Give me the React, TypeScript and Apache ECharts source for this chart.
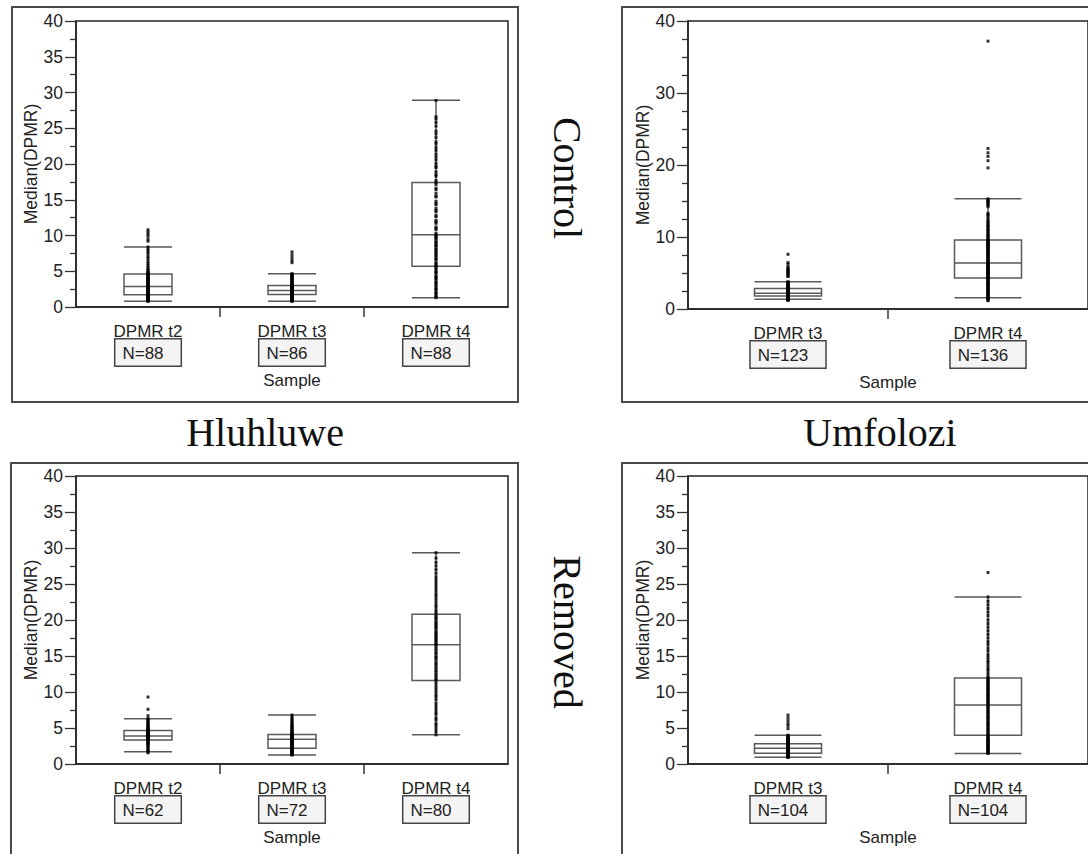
import React, { useEffect, useRef } from "react";
import * as echarts from "echarts";

// Sample columns per reserve
const hluhluweSamples = ["DPMR t2", "DPMR t3", "DPMR t4"];
const umfoloziSamples = ["DPMR t3", "DPMR t4"];

// Sample sizes shown under each column
const hluhluweControlN = [88, 86, 88];
const umfoloziControlN = [123, 136];
const hluhluweRemovedN = [62, 72, 80];
const umfoloziRemovedN = [104, 104];

// Box statistics: [lower whisker, Q1, median, Q3, upper whisker]
const hluhluweControlBoxes = [
  [0.8, 1.7, 2.85, 4.6, 8.4],
  [0.8, 1.75, 2.3, 3.0, 4.65],
  [1.3, 5.7, 10.1, 17.4, 28.9],
];
const umfoloziControlBoxes = [
  [1.35, 1.8, 2.2, 2.85, 3.8],
  [1.55, 4.3, 6.4, 9.6, 15.3],
];
const hluhluweRemovedBoxes = [
  [1.7, 3.35, 3.9, 4.65, 6.3],
  [1.25, 2.2, 3.45, 4.1, 6.8],
  [4.05, 11.6, 16.55, 20.8, 29.35],
];
const umfoloziRemovedBoxes = [
  [0.95, 1.5, 2.2, 2.8, 4.0],
  [1.45, 4.0, 8.2, 11.95, 23.2],
];

// Individual median DPMR values
const hcT2 = [
  0.8, 0.85, 0.9, 0.95, 1.0, 1.0, 1.1, 1.15, 1.2, 1.25, 1.3, 1.3, 1.4, 1.45, 1.5, 1.5, 1.55, 1.6, 1.6, 1.65, 1.7, 1.7,
  1.75, 1.8, 1.85, 1.9, 1.95, 2.0, 2.05, 2.1, 2.2, 2.2, 2.25, 2.3, 2.4, 2.4, 2.45, 2.5, 2.6, 2.6, 2.65, 2.7, 2.8, 2.85,
  2.9, 3.0, 3.1, 3.2, 3.3, 3.35, 3.5, 3.55, 3.6, 3.7, 3.8, 3.85, 3.9, 4.0, 4.1, 4.15, 4.2, 4.3, 4.4, 4.45, 4.5, 4.6,
  4.7, 4.75, 4.8, 4.95, 5.1, 5.3, 5.5, 5.8, 6.1, 6.4, 6.8, 7.1, 7.5, 7.8, 8.1, 8.4, 9.2, 9.5, 9.9, 10.2, 10.5, 10.8,
];
const hcT3 = [
  0.8, 0.85, 0.9, 0.95, 1.0, 1.05, 1.1, 1.15, 1.2, 1.25, 1.3, 1.35, 1.4, 1.45, 1.5, 1.5, 1.55, 1.6, 1.65, 1.7, 1.7, 1.75,
  1.8, 1.8, 1.85, 1.85, 1.9, 1.9, 1.95, 2.0, 2.0, 2.05, 2.05, 2.1, 2.1, 2.15, 2.15, 2.2, 2.2, 2.25, 2.25, 2.3, 2.3,
  2.35, 2.35, 2.4, 2.4, 2.45, 2.5, 2.5, 2.55, 2.6, 2.6, 2.65, 2.7, 2.7, 2.75, 2.8, 2.8, 2.85, 2.9, 2.9, 2.95, 3.0,
  3.1, 3.2, 3.3, 3.4, 3.5, 3.6, 3.7, 3.8, 3.9, 4.0, 4.1, 4.2, 4.3, 4.4, 4.5, 4.6, 4.65,
  6.2, 6.5, 6.9, 7.3, 7.7,
];
const hcT4 = [
  1.3, 1.45, 1.6, 1.9, 2.0, 2.35, 2.5, 2.6, 2.95, 3.1, 3.4, 3.45, 3.8, 4.0, 4.2, 4.3, 4.7, 4.85, 5.0, 5.3, 5.5, 5.7,
  5.8, 6.1, 6.2, 6.6, 6.7, 6.9, 7.2, 7.3, 7.6, 7.7, 8.0, 8.1, 8.4, 8.6, 8.7, 9.0, 9.1, 9.4, 9.6, 9.8, 9.9, 10.1,
  10.3, 10.8, 11.0, 11.2, 11.7, 11.9, 12.1, 12.6, 12.8, 13.3, 13.5, 13.8, 14.3, 14.5, 14.8, 15.4, 15.5, 15.9, 16.4, 16.6, 17.1, 17.4,
  17.7, 18.3, 18.5, 18.9, 19.5, 19.7, 20.1, 20.6, 21.0, 21.4, 21.9, 22.3, 22.8, 23.1, 23.7, 24.2, 24.6, 25.3, 25.8, 26.3, 26.6, 28.9,
];
const ucT3 = [
  1.2, 1.25, 1.3, 1.35, 1.35, 1.4, 1.4, 1.45, 1.45, 1.5, 1.5, 1.5, 1.55, 1.55, 1.55, 1.6, 1.6, 1.6, 1.6, 1.65, 1.65,
  1.65, 1.7, 1.7, 1.7, 1.7, 1.75, 1.75, 1.75, 1.8, 1.8,
  1.85, 1.85, 1.85, 1.9, 1.9, 1.9, 1.9, 1.95, 1.95, 1.95, 1.95, 2.0, 2.0, 2.0, 2.0, 2.0, 2.05, 2.05, 2.05, 2.05, 2.05,
  2.1, 2.1, 2.1, 2.1, 2.15, 2.15, 2.15, 2.15, 2.2, 2.2,
  2.25, 2.25, 2.25, 2.25, 2.3, 2.3, 2.3, 2.35, 2.35, 2.35, 2.4, 2.4, 2.4, 2.45, 2.45, 2.45, 2.5, 2.5, 2.5, 2.55, 2.55,
  2.6, 2.6, 2.6, 2.7, 2.7, 2.7, 2.8, 2.8, 2.85, 2.85,
  2.9, 2.95, 3.0, 3.05, 3.1, 3.15, 3.2, 3.25, 3.3, 3.4, 3.45, 3.5, 3.55, 3.65, 3.7, 3.8,
  4.5, 4.6, 4.75, 4.9, 5.0, 5.15, 5.3, 5.4, 5.55, 5.7, 5.85, 6.2, 6.45, 7.6,
];
const ucT4 = [
  1.15, 1.25, 1.35, 1.45, 1.55, 1.6, 1.7, 1.8, 1.9, 2.0, 2.1, 2.2, 2.3, 2.4, 2.5, 2.6, 2.7, 2.8, 2.9, 3.0, 3.1, 3.2,
  3.3, 3.35, 3.45, 3.55, 3.65, 3.7, 3.8, 3.9, 4.0, 4.1, 4.2, 4.3,
  4.35, 4.4, 4.45, 4.5, 4.6, 4.65, 4.7, 4.8, 4.85, 4.9, 5.0, 5.05, 5.1, 5.2, 5.25, 5.3, 5.4, 5.45, 5.5, 5.6, 5.65, 5.7,
  5.8, 5.85, 5.9, 6.0, 6.05, 6.1, 6.15, 6.2, 6.25, 6.3, 6.35, 6.4,
  6.5, 6.6, 6.7, 6.8, 6.9, 7.0, 7.1, 7.2, 7.3, 7.4, 7.5, 7.6, 7.7, 7.85, 7.95, 8.0, 8.1, 8.2, 8.3, 8.4, 8.5, 8.6, 8.7,
  8.8, 8.85, 8.9, 9.0, 9.1, 9.2, 9.3, 9.4, 9.45, 9.5, 9.6,
  9.7, 9.9, 10.1, 10.2, 10.4, 10.5, 10.7, 10.9, 11.0, 11.2, 11.4, 11.5, 11.7, 11.9, 12.1, 12.3, 12.6, 12.9, 13.1,
  13.3, 14.2, 14.4, 14.6, 14.7, 14.9, 15.0, 15.1, 15.3,
  19.6, 20.6, 21.2, 21.7, 22.3, 37.2,
];
const hrT2 = [
  1.55, 1.7, 1.85, 2.0, 2.2, 2.35, 2.5, 2.65, 2.8, 2.9, 3.0, 3.1, 3.2, 3.3, 3.35,
  3.4, 3.45, 3.5, 3.5, 3.55, 3.6, 3.6, 3.65, 3.7, 3.7, 3.75, 3.8, 3.8, 3.85, 3.9, 3.9,
  3.95, 4.0, 4.05, 4.1, 4.15, 4.2, 4.25, 4.3, 4.35, 4.4, 4.45, 4.5, 4.55, 4.6, 4.65,
  4.75, 4.85, 4.95, 5.05, 5.15, 5.3, 5.4, 5.55, 5.7, 5.85, 6.0, 6.15, 6.3,
  6.7, 7.6, 9.3,
];
const hrT3 = [
  1.25, 1.3, 1.35, 1.4, 1.45, 1.5, 1.6, 1.65, 1.7, 1.8, 1.85, 1.9, 1.95, 2.0, 2.05, 2.1, 2.15, 2.2,
  2.25, 2.3, 2.4, 2.45, 2.5, 2.6, 2.65, 2.75, 2.8, 2.9, 2.95, 3.0, 3.1, 3.15, 3.25, 3.3, 3.4, 3.45,
  3.5, 3.5, 3.55, 3.6, 3.6, 3.65, 3.7, 3.75, 3.75, 3.8, 3.85, 3.9, 3.9, 3.95, 4.0, 4.0, 4.05, 4.1,
  4.2, 4.3, 4.4, 4.5, 4.6, 4.7, 4.85, 5.0, 5.1, 5.25, 5.4, 5.55, 5.7, 5.9, 6.1, 6.3, 6.55, 6.8,
];
const hrT4 = [
  4.05, 4.5, 4.9, 5.3, 5.6, 6.1, 6.4, 6.9, 7.2, 7.6, 8.0, 8.4, 8.9, 9.3, 9.6, 10.0, 10.4, 10.8, 11.2, 11.6,
  11.8, 12.0, 12.3, 12.5, 12.8, 13.0, 13.3, 13.5, 13.8, 14.0, 14.3, 14.6, 14.8, 15.0, 15.3, 15.5, 15.8, 16.0, 16.3, 16.55,
  16.7, 16.9, 17.1, 17.3, 17.5, 17.7, 17.9, 18.1, 18.3, 18.5, 18.8, 19.0, 19.2, 19.4, 19.6, 19.8, 20.1, 20.3, 20.5, 20.8,
  21.1, 21.4, 21.8, 22.1, 22.5, 22.9, 23.3, 23.6, 24.0, 24.4, 24.8, 25.2, 25.6, 26.0, 26.5, 27.0, 27.5, 28.0, 28.6, 29.35,
];
const urT3 = [
  0.95, 0.95, 1.0, 1.0, 1.05, 1.05, 1.1, 1.1, 1.15, 1.15, 1.2, 1.2, 1.25, 1.25, 1.3, 1.3, 1.3, 1.35, 1.35, 1.4, 1.4,
  1.4, 1.45, 1.45, 1.5, 1.5,
  1.55, 1.55, 1.55, 1.6, 1.6, 1.6, 1.7, 1.7, 1.7, 1.75, 1.75, 1.8, 1.8, 1.8, 1.9, 1.9, 1.9, 2.0, 2.0, 2.0, 2.05, 2.05,
  2.1, 2.1, 2.2, 2.2,
  2.25, 2.25, 2.25, 2.3, 2.3, 2.3, 2.35, 2.35, 2.35, 2.4, 2.4, 2.4, 2.5, 2.5, 2.5, 2.55, 2.55, 2.55, 2.6, 2.6, 2.6,
  2.7, 2.7, 2.7, 2.8, 2.8,
  2.85, 2.9, 2.95, 3.0, 3.05, 3.1, 3.15, 3.2, 3.3, 3.35, 3.4, 3.45, 3.5, 3.6, 3.65, 3.7, 3.8, 3.85, 3.9, 4.0,
  4.9, 5.3, 5.6, 6.0, 6.4, 6.8,
];
const urT4 = [
  1.45, 1.55, 1.65, 1.7, 1.8, 1.9, 2.0, 2.1, 2.2, 2.3, 2.4, 2.5, 2.6, 2.7, 2.8, 2.9, 3.0, 3.1, 3.2, 3.3, 3.4, 3.5,
  3.6, 3.7, 3.85, 4.0,
  4.15, 4.3, 4.5, 4.65, 4.8, 4.95, 5.1, 5.3, 5.45, 5.6, 5.75, 5.9, 6.1, 6.25, 6.4, 6.55, 6.7, 6.9, 7.05, 7.2, 7.35,
  7.5, 7.7, 7.85, 8.0, 8.2,
  8.35, 8.5, 8.65, 8.8, 8.9, 9.05, 9.2, 9.35, 9.5, 9.6, 9.75, 9.9, 10.05, 10.2, 10.35, 10.5, 10.6, 10.75, 10.9,
  11.05, 11.2, 11.35, 11.5, 11.65, 11.8, 11.95,
  12.2, 12.6, 13.0, 13.3, 13.7, 14.1, 14.4, 14.8, 15.2, 15.7, 16.1, 16.6, 17.0, 17.5, 18.0, 18.5, 19.0, 19.5, 20.0,
  20.6, 21.1, 21.6, 22.1, 22.6, 23.2,
  26.6,
];

const SANS = '"Liberation Sans", Arial, Helvetica, sans-serif';
const SERIF = '"Liberation Serif", "Times New Roman", Times, serif';
const TEXT = "#222";

type Panel = {
  grid: { left: number; top: number; width: number; height: number };
  categories: string[];
  n: number[];
  boxes: number[][];
  points: number[][];
  yInterval: number;
  minorSplit: number;
  boxWidth: number;
};

const panels: Panel[] = [
  {
    grid: { left: 76, top: 21, width: 432, height: 286 },
    categories: hluhluweSamples,
    n: hluhluweControlN,
    boxes: hluhluweControlBoxes,
    points: [hcT2, hcT3, hcT4],
    yInterval: 5,
    minorSplit: 2,
    boxWidth: 48,
  },
  {
    grid: { left: 688, top: 21, width: 402, height: 288 },
    categories: umfoloziSamples,
    n: umfoloziControlN,
    boxes: umfoloziControlBoxes,
    points: [ucT3, ucT4],
    yInterval: 10,
    minorSplit: 4,
    boxWidth: 67,
  },
  {
    grid: { left: 76, top: 476, width: 432, height: 288 },
    categories: hluhluweSamples,
    n: hluhluweRemovedN,
    boxes: hluhluweRemovedBoxes,
    points: [hrT2, hrT3, hrT4],
    yInterval: 5,
    minorSplit: 2,
    boxWidth: 48,
  },
  {
    grid: { left: 688, top: 476, width: 402, height: 288 },
    categories: umfoloziSamples,
    n: umfoloziRemovedN,
    boxes: umfoloziRemovedBoxes,
    points: [urT3, urT4],
    yInterval: 5,
    minorSplit: 2,
    boxWidth: 67,
  },
];

function buildOption(): echarts.EChartsCoreOption {
  const grid: any[] = [];
  const xAxis: any[] = [];
  const yAxis: any[] = [];
  const series: any[] = [];

  panels.forEach((p, i) => {
    grid.push({
      ...p.grid,
      show: true,
      borderColor: "#222",
      borderWidth: 1.5,
      backgroundColor: "transparent",
    });

    // category axis carrying the sample names and N boxes
    xAxis.push({
      type: "category",
      gridIndex: i,
      position: "bottom",
      data: p.categories,
      axisLine: { show: true, lineStyle: { color: "#222", width: 1.5 } },
      axisTick: { show: false },
      splitLine: { show: false },
      name: "Sample",
      nameLocation: "middle",
      nameGap: 65,
      nameTextStyle: { fontFamily: SANS, fontSize: 17, color: TEXT },
      axisLabel: {
        interval: 0,
        margin: 14,
        fontFamily: SANS,
        formatter: (value: string, idx: number) => `{c|${value}}\n{n|N=${p.n[idx]}}`,
        rich: {
          c: { fontFamily: SANS, fontSize: 17, lineHeight: 20, color: TEXT },
          n: {
            fontFamily: SANS,
            fontSize: 17,
            lineHeight: 23,
            color: TEXT,
            backgroundColor: "#f4f4f4",
            borderColor: "#444",
            borderWidth: 1.5,
            padding: [5, 17, 4, 7],
          },
        },
      },
    });

    // helper axis for the separator ticks between samples
    const sep: number[] = [];
    for (let k = 1; k < p.categories.length; k++) sep.push(k);
    xAxis.push({
      type: "value",
      gridIndex: i,
      position: "bottom",
      min: 0,
      max: p.categories.length,
      axisLine: { show: false },
      axisLabel: { show: false },
      splitLine: { show: false },
      axisTick: {
        show: true,
        inside: false,
        length: 10,
        customValues: sep,
        lineStyle: { color: "#333", width: 1.5 },
      },
    });

    yAxis.push({
      type: "value",
      gridIndex: i,
      min: 0,
      max: 40,
      interval: p.yInterval,
      name: "Median(DPMR)",
      nameLocation: "middle",
      nameGap: 35,
      nameTextStyle: { fontFamily: SANS, fontSize: 17.5, color: TEXT },
      axisLine: { show: true, lineStyle: { color: "#222", width: 1.5 } },
      axisTick: { show: true, length: 11, lineStyle: { color: "#333", width: 1.3 } },
      minorTick: {
        show: true,
        splitNumber: p.minorSplit,
        length: 6,
        lineStyle: { color: "#333", width: 1.3 },
      },
      splitLine: { show: false },
      minorSplitLine: { show: false },
      axisLabel: { fontFamily: SANS, fontSize: 17.5, color: TEXT, margin: 13 },
    });

    series.push({
      type: "boxplot",
      xAxisIndex: i * 2,
      yAxisIndex: i,
      silent: true,
      boxWidth: [p.boxWidth, p.boxWidth],
      itemStyle: { color: "rgba(255,255,255,0)", borderColor: "#5a5a5a", borderWidth: 1.5 },
      data: p.boxes,
      z: 2,
    });

    const pts: number[][] = [];
    p.points.forEach((vals, idx) => vals.forEach((v) => pts.push([idx, v])));
    series.push({
      type: "scatter",
      xAxisIndex: i * 2,
      yAxisIndex: i,
      silent: true,
      symbol: "rect",
      symbolSize: [3, 3],
      itemStyle: { color: "#000" },
      data: pts,
      z: 3,
    });
  });

  const frame = { fill: "none", stroke: "#4a4a4a", lineWidth: 2 };
  const rowFont = `40px ${SERIF}`;
  const centred = { textAlign: "center", textVerticalAlign: "middle", align: "center", verticalAlign: "middle" };

  const graphic: any[] = [
    { type: "rect", shape: { x: 12, y: 7, width: 506, height: 395 }, style: frame, silent: true },
    { type: "rect", shape: { x: 622, y: 7, width: 600, height: 395 }, style: frame, silent: true },
    { type: "rect", shape: { x: 11, y: 463, width: 507, height: 500 }, style: frame, silent: true },
    { type: "rect", shape: { x: 622, y: 463, width: 600, height: 500 }, style: frame, silent: true },
    {
      type: "text",
      x: 567,
      y: 178,
      rotation: -Math.PI / 2,
      silent: true,
      style: { text: "Control", font: rowFont, fill: "#111", ...centred },
    },
    {
      type: "text",
      x: 567,
      y: 632,
      rotation: -Math.PI / 2,
      silent: true,
      style: { text: "Removed", font: rowFont, fill: "#111", ...centred },
    },
    {
      type: "text",
      x: 265,
      y: 432,
      silent: true,
      style: { text: "Hluhluwe", font: rowFont, fill: "#111", ...centred },
    },
    {
      type: "text",
      x: 880,
      y: 432,
      silent: true,
      style: { text: "Umfolozi", font: rowFont, fill: "#111", ...centred },
    },
  ];

  return {
    animation: false,
    backgroundColor: "#ffffff",
    textStyle: { fontFamily: SANS },
    grid,
    xAxis,
    yAxis,
    series,
    graphic,
  };
}

export default function App() {
  const ref = useRef<HTMLDivElement>(null);

  useEffect(() => {
    if (!ref.current) return;
    const chart = echarts.init(ref.current, undefined, { renderer: "svg" });
    chart.setOption(buildOption());
    return () => {
      chart.dispose();
    };
  }, []);

  return (
    <div
      ref={ref}
      style={{ position: "fixed", left: 0, top: 0, width: 1088, height: 854, background: "#fff" }}
    />
  );
}
